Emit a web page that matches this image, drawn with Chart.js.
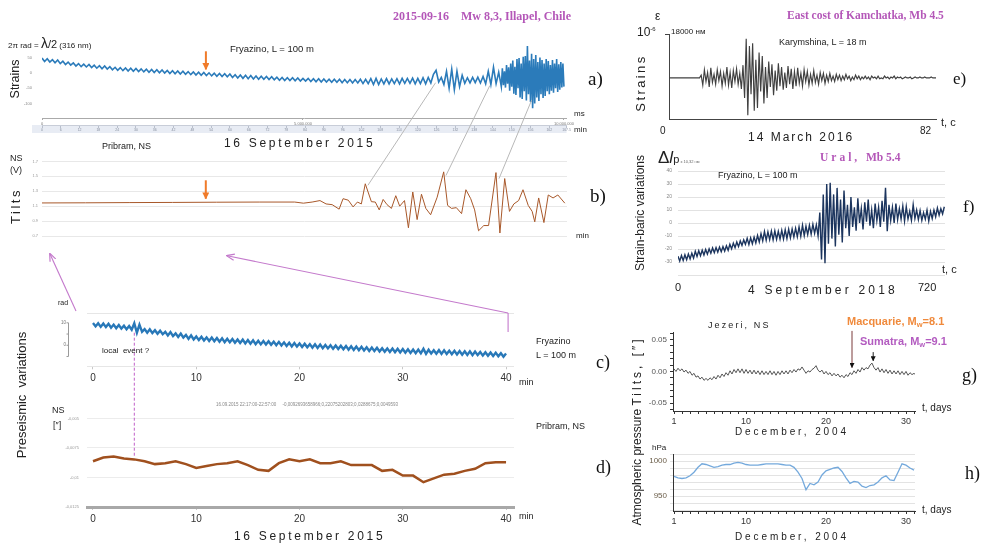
<!DOCTYPE html>
<html>
<head>
<meta charset="utf-8">
<title>Strain and tilt records</title>
<script src="https://cdn.jsdelivr.net/npm/chart.js"></script>
<style>
  html, body { margin: 0; padding: 0; background: #fff; }
  body { width: 981px; height: 546px; position: relative; overflow: hidden;
         font-family: "Liberation Sans", Arial, sans-serif; color: #222; }
  .box { position: absolute; }
  .t { position: absolute; white-space: pre; line-height: 1; }
  .ttl { font-family: "Liberation Serif", serif; font-weight: bold; color: #b457b8; font-size: 11.5px; }
  .lbl { font-family: "Liberation Serif", serif; font-size: 19px; color: #111; }
  .rot { transform: translate(-50%, -50%) rotate(-90deg); }
  #ov { position: absolute; left: 0; top: 0; pointer-events: none; }
</style>
</head>
<body>

<div class="box" style="left:0;top:38px;width:575px;height:95px"><canvas id="cA"></canvas></div>
<div class="box" style="left:0;top:155px;width:575px;height:88px"><canvas id="cB"></canvas></div>
<div class="box" style="left:0;top:290px;width:575px;height:100px"><canvas id="cC"></canvas></div>
<div class="box" style="left:0;top:408px;width:575px;height:118px"><canvas id="cD"></canvas></div>
<div class="box" style="left:620px;top:24px;width:320px;height:106px"><canvas id="cE"></canvas></div>
<div class="box" style="left:620px;top:160px;width:330px;height:125px"><canvas id="cF"></canvas></div>
<div class="box" style="left:620px;top:325px;width:300px;height:105px"><canvas id="cG"></canvas></div>
<div class="box" style="left:620px;top:440px;width:300px;height:90px"><canvas id="cH"></canvas></div>

<svg id="ov" width="981" height="546"></svg>

<!-- a) -->
<div class="t ttl" style="left:393px;top:10px;font-size:12px">2015-09-16    Mw 8,3, Illapel, Chile</div>
<div class="t" style="left:8px;top:36px;font-size:8px">2π rad = <span style="font-size:14px">λ</span><span style="font-size:11px">/2</span> (316 nm)</div>
<div class="t" style="left:230px;top:44px;font-size:9.5px">Fryazino, L = 100 m</div>
<div class="t rot" style="left:15px;top:79px;font-size:12.5px">Strains</div>
<div class="t lbl" style="left:588px;top:69px">a)</div>
<div class="t" style="left:574px;top:110px;font-size:8px">ms</div>
<div class="t" style="left:574px;top:126px;font-size:8px">min</div>
<div class="t" style="left:224px;top:137px;font-size:12px;letter-spacing:2.7px">16 September 2015</div>

<!-- b) -->
<div class="t" style="left:102px;top:142px;font-size:9px">Pribram, NS</div>
<div class="t" style="left:10px;top:154px;font-size:9px">NS</div>
<div class="t" style="left:10px;top:166px;font-size:9px">(V)</div>
<div class="t rot" style="left:15px;top:206px;font-size:13px;letter-spacing:2.5px">Tilts</div>
<div class="t" style="left:576px;top:232px;font-size:8px">min</div>
<div class="t lbl" style="left:590px;top:186px">b)</div>

<!-- c) -->
<div class="t" style="left:58px;top:299px;font-size:7px">rad</div>
<div class="t" style="left:102px;top:347px;font-size:8px">local  event ?</div>
<div class="t" style="left:536px;top:337px;font-size:9px">Fryazino</div>
<div class="t" style="left:536px;top:351px;font-size:9px">L = 100 m</div>
<div class="t lbl" style="left:596px;top:353px;font-size:18px">c)</div>
<div class="t" style="left:519px;top:378px;font-size:9px">min</div>
<div class="t rot" style="left:21px;top:395px;font-size:13px">Preseismic  variations</div>

<!-- d) -->
<div class="t" style="left:52px;top:406px;font-size:9px">NS</div>
<div class="t" style="left:53px;top:421px;font-size:9px">[″]</div>
<div class="t" style="left:216px;top:403px;font-size:4.5px;color:#888">16.09.2015 22:17:00-22:57:00     -0,0092693658966;0,22075202803;0,0288675;0,0049593</div>
<div class="t" style="left:536px;top:422px;font-size:9px">Pribram, NS</div>
<div class="t lbl" style="left:596px;top:458px;font-size:18px">d)</div>
<div class="t" style="left:519px;top:512px;font-size:9px">min</div>
<div class="t" style="left:234px;top:530px;font-size:12px;letter-spacing:2.7px">16 September 2015</div>

<!-- e) -->
<div class="t ttl" style="left:787px;top:10px">East cost of Kamchatka, Mb 4.5</div>
<div class="t" style="left:655px;top:10px;font-size:12px">ε</div>
<div class="t" style="left:637px;top:26px;font-size:12px">10<span style="font-size:6px;vertical-align:5px">-6</span></div>
<div class="t" style="left:671px;top:28px;font-size:8px">18000 нм</div>
<div class="t" style="left:779px;top:38px;font-size:9px">Karymshina, L = 18 m</div>
<div class="t rot" style="left:640px;top:83px;font-size:13px;letter-spacing:2.4px">Strains</div>
<div class="t" style="left:660px;top:126px;font-size:10px">0</div>
<div class="t" style="left:748px;top:131px;font-size:12px;letter-spacing:2px">14 March 2016</div>
<div class="t" style="left:920px;top:126px;font-size:10px">82</div>
<div class="t" style="left:941px;top:117px;font-size:11px">t, c</div>
<div class="t lbl" style="left:953px;top:70px;font-size:17px">e)</div>

<!-- f) -->
<div class="t" style="left:658px;top:149px;font-size:17px">Δ<i>l</i><span style="font-size:11px">p</span><span style="font-size:4px;color:#666"> x 10,32 нм</span></div>
<div class="t ttl" style="left:820px;top:152px"><span style="letter-spacing:3px">Ural,</span>  Mb 5.4</div>
<div class="t" style="left:718px;top:171px;font-size:9px">Fryazino, L = 100 m</div>
<div class="t rot" style="left:640px;top:213px;font-size:12px">Strain-baric variations</div>
<div class="t" style="left:942px;top:264px;font-size:11px">t, c</div>
<div class="t" style="left:675px;top:282px;font-size:11px">0</div>
<div class="t" style="left:748px;top:284px;font-size:12px;letter-spacing:3.2px">4 September 2018</div>
<div class="t" style="left:918px;top:282px;font-size:11px">720</div>
<div class="t lbl" style="left:963px;top:198px;font-size:17px">f)</div>

<!-- g) -->
<div class="t" style="left:708px;top:321px;font-size:9px;letter-spacing:2.1px">Jezeri, NS</div>
<div class="t" style="left:847px;top:316px;font-size:11px;font-weight:bold;color:#f08a3c">Macquarie, M<span style="font-size:7.5px;vertical-align:-2px">w</span>=8.1</div>
<div class="t" style="left:860px;top:336px;font-size:11px;font-weight:bold;color:#b35cc0">Sumatra, M<span style="font-size:7.5px;vertical-align:-2px">w</span>=9.1</div>
<div class="t" style="left:922px;top:403px;font-size:10px">t, days</div>
<div class="t lbl" style="left:962px;top:366px;font-size:18px">g)</div>
<div class="t" style="left:735px;top:427px;font-size:10px;letter-spacing:2.9px">December, 2004</div>
<div class="t rot" style="left:637px;top:431px;font-size:12px">Atmospheric pressure <span style="letter-spacing:3px">Tilts, [″]</span></div>

<!-- h) -->
<div class="t" style="left:652px;top:444px;font-size:8px">hPa</div>
<div class="t" style="left:922px;top:505px;font-size:10px">t, days</div>
<div class="t lbl" style="left:965px;top:464px;font-size:18px">h)</div>
<div class="t" style="left:735px;top:532px;font-size:10px;letter-spacing:2.9px">December, 2004</div>

<script>
// a) Fryazino strains, 16 Sep 2015; x in units of 1e5 ms
// slow part: one sample every 0.5 units from 0 to 88
const aStep = 0.5;
const aStrain = [
  48, 37, 46, 35, 43, 33, 42, 30, 38, 27, 35, 25, 32, 22, 30, 20, 28, 19, 27, 17,
  25, 15, 23, 13, 22, 12, 20, 10, 18, 8, 17, 7, 16, 6, 15, 5, 14, 4, 13, 3,
  12, 2, 11, 1, 10, 0, 9, -1, 8, -2, 7, -3, 6, -4, 5, -5, 4, -6, 3, -7,
  2, -8, 1, -9, 0, -10, -1, -11, -2, -12, -3, -13, -4, -15, -6, -17, -7, -18, -8, -19,
  -9, -20, -10, -21, -11, -21, -12, -22, -13, -23, -14, -24, -15, -25, -16, -25, -16, -26, -17, -27,
  -18, -27, -18, -28, -19, -29, -19, -30, -20, -30, -21, -31, -21, -31, -21, -32, -22, -32, -22, -33,
  -22, -33, -21, -35, -21, -35, -19, -38, -18, -38, -20, -36, -19, -36, -20, -35, -19, -36, -18, -34,
  -18, -34, -17, -36, -18, -35, -16, -36, -15, -33,
  -5, 8, -30, -15, -38, 5, -50, 12, -55, 5, -45, -8, -34, -16, -33, -15, -32, -14, -33, -12,
  -36, 5, -38, 18, -35, 2, -45
];
// main burst: one sample every 0.2 units from 88.2 to 100
const aBurstStart = 88.2;
const aBurstStep = 0.2;
const aBurst = [
  15, -40, 5, -48, 25, -35, 18, -58, 30, -45,
  40, -68, 20, -72, 45, -50, 48, -80, 30, -85,
  52, -60, 55, -90, 87, -70, 40, -95, 62, -115,
  45, -100, 58, -80, 35, -92, 50, -70, 42, -82,
  30, -75, 45, -60, 38, -70, 25, -58, 42, -65,
  30, -50, 45, -62, 28, -55, 35, -48, 30, -45
];
const aTickMs = [0, 5000000, 10000000];
const aTickStrain = [50, 0, -50, -100];

// b) Pribram NS tilts, minutes
const bMin = [0, 10, 20, 30, 40, 50, 58, 60, 62, 63.8, 65.2, 66.6, 68.2, 69.1, 70.3, 71.4, 72.4,
  73.3, 74.2, 75.6, 76.5, 77.4, 78.3, 79.2, 80.2, 81.2, 82.1, 83.2, 84.1, 85.1, 86.1, 87.1, 88.1,
  89.2, 90.7, 92.2, 93.1, 94, 95.1, 96.3, 97.3, 98.4, 99.3, 100.2, 101.4, 102.5, 104.2, 105.1,
  106.2, 107.3, 108.3, 109.4, 110.4, 111.6, 112.5, 113.1, 114, 115.2, 116.2, 117.3, 118.4, 120];
const bNS = [1.143, 1.145, 1.148, 1.15, 1.153, 1.155, 1.155, 1.14, 1.155, 1.175, 1.13, 1.12, 1.06,
  1.20, 1.18, 1.09, 1.155, 1.13, 1.40, 1.16, 1.155, 1.05, 1.19, 1.12, 1.07, 1.24, 1.10, 1.175, 0.81,
  1.29, 0.92, 1.26, 1.07, 0.985, 1.22, 1.56, 1.11, 1.07, 1.08, 1.0, 1.32, 1.2, 1.05, 0.77, 0.84,
  0.84, 1.55, 0.74, 1.47, 1.03, 1.13, 1.175, 1.32, 1.11, 1.03, 0.89, 1.21, 0.88, 1.25, 1.21, 1.25, 1.14];
const bTickMin = [0, 10, 20, 30, 40, 50, 60, 70, 80, 90, 100, 110, 120];
const bTickNS = [0.7, 0.8, 0.9, 1, 1.1, 1.2, 1.3, 1.4, 1.5, 1.6, 1.7];

// c) Fryazino preseismic strain, rad, 4 samples per minute
const cStepMin = 0.25;
const cRad = [
  9.9, 8.4, 9.8, 8.2, 9.7, 8.1, 9.6, 7.8, 9.2, 7.6, 9.0, 7.4, 8.7, 7.1, 8.6, 6.9,
  9.8, 5.6, 9.2, 6.0, 7.2, 5.6, 7.1, 5.4, 6.7, 5.1, 6.5, 4.9, 6.0, 4.4, 5.9, 4.1,
  5.3, 3.7, 5.2, 3.4, 4.6, 2.8, 4.4, 2.6, 3.9, 2.3, 3.8, 2.1, 3.5, 1.9, 3.4, 1.8,
  3.2, 1.6, 3.1, 1.4, 2.9, 1.3, 2.8, 1.1, 2.6, 1.0, 2.5, 0.8, 2.3, 0.7, 2.2, 0.5,
  2.0, 0.4, 1.9, 0.3, 1.8, 0.2, 1.6, 0.0, 1.5, -0.1, 1.3, -0.3, 1.1, -0.5, 1.0, -0.6,
  0.8, -0.8, 0.7, -0.9, 0.5, -1.1, 0.4, -1.2, 0.3, -1.3, 0.1, -1.4, 0.0, -1.6, -0.1, -1.7,
  -0.2, -1.8, -0.3, -2.0, -0.5, -2.1, -0.6, -2.2, -0.7, -2.3, -0.9, -2.5, -1.0, -2.6, -1.1, -2.8,
  -1.3, -2.9, -1.4, -3.0, -1.5, -3.1, -1.6, -3.2, -1.7, -3.3, -1.8, -3.4, -1.9, -3.5, -1.9, -3.6,
  -1.6, -3.8, -2.0, -3.7, -2.2, -3.8, -2.2, -3.9, -2.3, -3.9, -2.4, -4.0, -2.5, -4.1, -2.6, -4.2,
  -2.7, -4.3, -2.7, -4.4, -2.8, -4.4, -3.0, -4.6, -3.1, -4.7, -3.2, -4.8, -3.3, -4.9, -3.5, -5.1,
  -3.7
];
const cTickRad = [-9.375, 0, 10, 14.0625];
const cAxisMarks = [10, 5, 0, -5];
const minTicks = [0, 10, 20, 30, 40];

// d) Pribram NS, one sample per minute
const dNS = [-0.00863, -0.00831, -0.00823, -0.00839, -0.00847, -0.00863, -0.00887, -0.00879,
  -0.00863, -0.00887, -0.00919, -0.00903, -0.00887, -0.00879, -0.00863, -0.00895, -0.00935,
  -0.00944, -0.00879, -0.00847, -0.00863, -0.00847, -0.00879, -0.00879, -0.00863, -0.00895,
  -0.00895, -0.00895, -0.00944, -0.00935, -0.00984, -0.00984, -0.0104, -0.01008, -0.00976,
  -0.00968, -0.00944, -0.00927, -0.00879, -0.00871, -0.00871];
const dTickNS = [-0.0125, -0.01, -0.0075, -0.005];
const dTickText = ['-0,0125', '-0,01', '-0,0075', '-0,005'];

// e) Karymshina strains, 14 Mar 2016, one sample every 0.5 s
const eStepS = 0.5;
const eStrain = [
  0, 0, 0, 0, 0, 0, 0, 0, 0, 0, 0, 0, 0, 0, 0, 0, 0, 0, 0, 0,
  3, -8, 9, -4, 6, -10, 11, -5, 4, -7, 9, -3, 7, -9, 5, -6, 12, -8, 6, -11, 8, -4, 10, -7, 5, -12,
  14, -22, 43, -41, 35, -18, 38, -36, 20, -33, 28, -15, 24, -28, 12, -22,
  18, -10, 15, -19, 8, -14, 16, -9, 12, -13, 6, -11, 13, -7, 10, -12, 7, -9, 11, -6,
  5, -9, 9, -4, 7, -8, 4, -6, 8, -5, 3, -7, 6, -3, 5, -6, 3, -4, 5, -3,
  2, -4, 4, -2, 3, -3, 2, -2, 4, -1, 2, -3, 1, -2, 3, -1, 2, -2, 1, -1,
  2, -1, 1, -2, 2, 0, 1, -1, 2, -1, 0, -1, 2, 0, 1, -1, 1, 0, 2, -1,
  1, 0, 1, -1, 0, 1, 0, 0, 1, -1, 0, 1, 0, 0, 1, 0, 0, 1, 0, 0,
  0, 1, 0, 0, 0
];

// f) Fryazino strain-baric variations, 4 Sep 2018, one sample every 5 s
const fStepS = 5;
const fStrain = [
  -25.5, -29.3, -25, -28.8, -24.4, -28.2, -23.8, -27.6, -23.2, -27,
  -21.8, -25.8, -21.4, -25.2, -20.9, -24.6, -20.4, -24.0, -19.9, -23.3,
  -19.2, -22.8, -18.9, -22.4, -18.5, -22.1, -18.2, -21.6, -17.6, -21.0,
  -16.3, -19.9, -15.5, -19.0, -14.6, -18.2, -13.8, -17.2, -13.0, -16.4,
  -11.8, -16.6, -11.4, -16.0, -10.8, -15.4, -9.6, -14.6, -8.2, -13.8,
  -6.5, -13.2, -6.8, -12.8, -6.2, -13.0, -6.0, -12.6, -6.4, -12.4,
  -5.6, -12.3, -5.2, -12.0, -4.8, -11.4, -4.6, -10.8, -4.0, -10.5,
  -3.0, -10.2, -1.7, -9.8, -2.5, -9.0, -1.8, -8.6, -1.0, -8.0,
  -1.5, -10, 8, -28, 22, -31, 30, -16, 31, -12,
  22, -18, 27, -9, 18, -15, 25, -4, 14, -10,
  20, -3, 12, -6, 19, 0, 11, -5, 16, 1,
  18, -2, 10, -4, 15, 2, 12, -3, 17, 1,
  27, -6.3, 14, 2, 12, 0, 15, 2.5, 11, 3,
  13, 1.5, 12.5, 3, 9, 2, 14, 3.5, 10, 2.5,
  9.5, 2, 8, 3, 10, 1.5, 9, 3.5, 10, 4.8,
  11.5, 6, 11, 7, 12.5
];
const fTickS = [0, 60, 120, 180, 240, 300, 360, 420, 480, 540, 600, 660, 720];
const fTickVal = [-40, -30, -20, -10, 0, 10, 20, 30, 40];

// g) Jezeri NS tilts, Dec 2004, 4 samples per day from day 1
const gStepDay = 0.25;
const gTilt = [
  0.004, 0.000, 0.005, 0.001, 0.004, -0.001, 0.002, -0.003, 0.000, -0.006, -0.003, -0.009,
  -0.007, -0.012, -0.009, -0.014, -0.011, -0.014, -0.010, -0.013, -0.008, -0.012, -0.006, -0.010,
  -0.004, -0.008, -0.002, -0.006, 0.001, -0.004, 0.003, -0.002, 0.004, -0.002, 0.004, -0.003,
  0.003, -0.003, 0.002, -0.004, 0.002, -0.004, 0.001, -0.005, 0.001, -0.005, 0.000, -0.005,
  0.001, -0.005, 0.000, -0.006, 0.000, -0.005, 0.001, -0.004, 0.001, -0.004, 0.002, -0.002,
  0.003, -0.001, 0.004, 0.002, 0.007, 0.002, -0.003, 0.001, -0.001, 0.003, 0.005, 0.009,
  0.002, -0.001, 0.002, -0.004, 0.000, -0.005, -0.002, -0.007, -0.003, -0.007, -0.004, -0.009,
  -0.006, -0.010, -0.005, -0.008, -0.002, -0.005, 0.001, -0.003, 0.003, -0.001, 0.006, 0.002,
  0.006, 0.004, 0.010, 0.013, 0.006, 0.002, 0.006, -0.001, 0.004, -0.002, 0.003, -0.003,
  0.002, -0.004, 0.001, -0.004, 0.001, -0.005, 0.000, -0.005, 0.000, -0.006, -0.002, -0.005,
  -0.003, -0.006, -0.004
];
const gTickVal = [-0.06, -0.05, -0.04, -0.03, -0.02, -0.01, 0, 0.01, 0.02, 0.03, 0.04, 0.05, 0.06];
const gTickText = ['', '-0.05', '', '', '', '', '0.00', '', '', '', '', '0.05', ''];

// h) atmospheric pressure, Dec 2004, 2 samples per day from day 1
const hStepDay = 0.5;
const hPress = [
  978, 976, 975, 976, 979, 984, 991, 996, 995, 993, 991, 992, 994, 995, 995, 997, 998, 997, 995, 994,
  994, 994, 995, 996, 996, 996, 996, 995, 994, 994, 991, 984, 975, 959, 968, 966, 970, 980, 986, 988,
  990, 991, 985, 976, 968, 971, 970, 964, 962, 965, 966, 970, 976, 979, 973, 972, 984, 996, 994, 990,
  987
];
const hTickVal = [930, 940, 950, 960, 970, 980, 990, 1000, 1010];
const hTickText = ['', '', '950', '', '', '', '', '1000', ''];
const dayTicks = [1, 2, 3, 4, 5, 6, 7, 8, 9, 10, 11, 12, 13, 14, 15, 16, 17, 18, 19, 20,
  21, 22, 23, 24, 25, 26, 27, 28, 29, 30, 31];
const dayLabels = [1, 10, 20, 30];

// connector ends, in each panel's own data units
const linkFromA = [[7540000, -32], [8580000, -41.5], [9380000, -89]];
const linkToB = [[74.8, 1.38], [92.7, 1.51], [104.9, 1.47]];

Chart.defaults.font.family = '"Liberation Sans", Arial, sans-serif';
Chart.defaults.color = '#555';

const series = (vals, step, start = 0) => vals.map((v, i) => ({ x: start + i * step, y: v }));
const fixW = w => s => { s.width = w; };
const fixH = h => s => { s.height = h; };
const setTicks = list => s => { s.ticks = list.map(v => ({ value: v })); };

function makeChart(id, datasets, scales, padding, plugins) {
  return new Chart(document.getElementById(id), {
    type: 'line',
    data: { datasets },
    options: {
      responsive: true,
      maintainAspectRatio: false,
      animation: false,
      events: [],
      layout: { padding },
      plugins: { legend: { display: false }, tooltip: { enabled: false } },
      elements: { point: { radius: 0 }, line: { tension: 0 } },
      scales
    },
    plugins: plugins || []
  });
}

// grey band behind the minute ruler of a)
const rulerBand = {
  id: 'rulerBand',
  beforeDraw(chart) {
    const s = chart.scales.x2;
    const ctx = chart.ctx;
    ctx.save();
    ctx.fillStyle = '#e8ecf4';
    ctx.fillRect(32, s.top, s.right - 32, s.bottom - s.top);
    ctx.restore();
  }
};

// small detached rad axis of c)
const radAxis = {
  id: 'radAxis',
  afterDraw(chart) {
    const y = chart.scales.y;
    const ctx = chart.ctx;
    const x0 = Math.round(chart.chartArea.left - 19) + 0.5;
    ctx.save();
    ctx.strokeStyle = '#9a9a9a';
    ctx.lineWidth = 1;
    ctx.beginPath();
    ctx.moveTo(x0, y.getPixelForValue(cAxisMarks[0]));
    ctx.lineTo(x0, y.getPixelForValue(cAxisMarks[cAxisMarks.length - 1]));
    cAxisMarks.forEach(v => {
      const p = y.getPixelForValue(v);
      ctx.moveTo(x0 - 2, p);
      ctx.lineTo(x0, p);
    });
    ctx.stroke();
    ctx.restore();
  }
};

const aPoints = series(aStrain, aStep * 1e5).concat(series(aBurst, aBurstStep * 1e5, aBurstStart * 1e5));

const chA = makeChart('cA', [{
  data: aPoints, borderColor: '#2b7bba', borderWidth: 1.6
}], {
  x: {
    type: 'linear', min: 0, max: 10050000, weight: 0,
    afterFit: fixH(7), afterBuildTicks: setTicks(aTickMs),
    ticks: { font: { size: 4 }, color: '#777', maxRotation: 0, padding: 1 },
    grid: { drawOnChartArea: false, tickLength: 2, color: '#aaa' },
    border: { color: '#aaa' }
  },
  x2: {
    type: 'linear', position: 'bottom', min: 0, max: 167.5, weight: 1,
    afterFit: fixH(8),
    ticks: { stepSize: 6, font: { size: 3.5 }, color: '#8890a0', maxRotation: 0, padding: 0, autoSkip: false },
    grid: { drawOnChartArea: false, tickLength: 3, color: '#b8bfcc' },
    border: { color: '#c8cdd8' }
  },
  y: {
    min: -147, max: 99, afterFit: fixW(42), afterBuildTicks: setTicks(aTickStrain),
    ticks: { font: { size: 4 }, color: '#888', padding: 2 },
    grid: { display: false }, border: { display: false }
  }
}, { top: 3, right: 8, left: 0, bottom: 0 }, [rulerBand]);

const chB = makeChart('cB', [{
  data: bMin.map((m, i) => ({ x: m, y: bNS[i] })), borderColor: '#a8582a', borderWidth: 1
}], {
  x: {
    type: 'linear', min: 0, max: 120.5, afterFit: fixH(7), afterBuildTicks: setTicks(bTickMin),
    ticks: { font: { size: 4 }, color: '#999', maxRotation: 0, padding: 1 },
    grid: { display: false }, border: { display: false }
  },
  y: {
    min: 0.7, max: 1.7, afterFit: fixW(42), afterBuildTicks: setTicks(bTickNS),
    ticks: { font: { size: 4 }, color: '#999', padding: 4 },
    grid: { color: '#e8e8e8', drawTicks: false }, border: { display: false }
  }
}, { top: 2, right: 8 });

const minAxis = () => ({
  type: 'linear', min: -0.58, max: 40.77, afterFit: fixH(19), afterBuildTicks: setTicks(minTicks),
  ticks: { font: { size: 10 }, color: '#333', maxRotation: 0, padding: 3 },
  grid: { drawOnChartArea: false, tickLength: 3, color: '#c8c8c8' }
});

const chC = makeChart('cC', [{
  data: series(cRad, cStepMin), borderColor: '#2878b8', borderWidth: 2.4
}], {
  x: Object.assign(minAxis(), { border: { display: false } }),
  y: {
    min: -9.375, max: 14.0625, afterFit: fixW(87), afterBuildTicks: setTicks(cTickRad),
    ticks: { font: { size: 4.5 }, color: '#777', padding: 21,
             callback: v => (v === 10 || v === 0) ? String(v) : '' },
    grid: { drawTicks: false,
            color: c => (c.tick.value === cTickRad[0] || c.tick.value === cTickRad[3]) ? '#e6e6e6' : 'rgba(0,0,0,0)' },
    border: { display: false }
  }
}, { top: 6, right: 61 }, [radAxis]);

const chD = makeChart('cD', [{
  data: series(dNS, 1), borderColor: '#a0501e', borderWidth: 2.5
}], {
  x: Object.assign(minAxis(), { border: { color: '#a8a8a8', width: 3 } }),
  y: {
    min: -0.0125, max: -0.005, afterFit: fixW(87), afterBuildTicks: setTicks(dTickNS),
    ticks: { font: { size: 4 }, color: '#999', padding: 8, callback: (v, i) => dTickText[i] },
    grid: { drawTicks: false, color: c => c.tick.value === dTickNS[0] ? 'rgba(0,0,0,0)' : '#ececec' },
    border: { display: false }
  }
}, { top: 6, right: 61 });

const chE = makeChart('cE', [{
  data: series(eStrain, eStepS), borderColor: '#404040', borderWidth: 1.15
}], {
  x: {
    type: 'linear', min: 0, max: 83, afterFit: fixH(6),
    ticks: { display: false }, grid: { display: false }, border: { color: '#444' }
  },
  y: {
    min: -46, max: 48, afterFit: fixW(49), afterBuildTicks: setTicks([48]),
    ticks: { callback: () => '' },
    grid: { drawOnChartArea: false, tickLength: 4, color: '#444' },
    border: { color: '#444' }
  }
}, { top: 6, right: 4 });

const chF = makeChart('cF', [{
  data: series(fStrain, fStepS), borderColor: '#1c355e', borderWidth: 1.4
}], {
  x: {
    type: 'linear', min: 0, max: 772, afterFit: fixH(10), afterBuildTicks: setTicks(fTickS),
    ticks: { font: { size: 4 }, color: '#999', maxRotation: 0, padding: 2 },
    grid: { display: false }, border: { display: false }
  },
  y: {
    min: -40, max: 40, afterFit: fixW(58), afterBuildTicks: setTicks(fTickVal),
    ticks: { font: { size: 5 }, color: '#888', padding: 6, callback: v => v === -40 ? '' : String(v) },
    grid: { color: '#e2e2e2', drawTicks: false }, border: { display: false }
  }
}, { top: 11, right: 5 });

const dayAxis = () => ({
  type: 'linear', min: 0.875, max: 31.125, afterFit: fixH(19), afterBuildTicks: setTicks(dayTicks),
  ticks: { font: { size: 9 }, color: '#333', maxRotation: 0, padding: 2, autoSkip: false,
           callback: v => dayLabels.includes(v) ? String(v) : '' },
  grid: { drawOnChartArea: false, tickLength: 3, color: '#333' },
  border: { color: '#333' }
});

const chG = makeChart('cG', [{
  data: series(gTilt, gStepDay, 1), borderColor: '#444', borderWidth: 0.9
}], {
  x: dayAxis(),
  y: {
    min: -0.0621, max: 0.0606, afterFit: fixW(53), afterBuildTicks: setTicks(gTickVal),
    ticks: { font: { size: 8 }, color: '#555', padding: 3, autoSkip: false, callback: (v, i) => gTickText[i] },
    grid: { drawOnChartArea: false, tickLength: 3, color: '#333' },
    border: { color: '#333' }
  }
}, { top: 5, right: 5 });

const chH = makeChart('cH', [{
  data: series(hPress, hStepDay, 1), borderColor: '#74a9dc', borderWidth: 1.3
}], {
  x: dayAxis(),
  y: {
    min: 928.6, max: 1010, afterFit: fixW(53), afterBuildTicks: setTicks(hTickVal),
    ticks: { font: { size: 8 }, color: '#6b5e4a', padding: 3, autoSkip: false, callback: (v, i) => hTickText[i] },
    grid: { color: '#e3e3e3', tickLength: 3 },
    border: { color: '#333' }
  }
}, { top: 14, right: 5 });

// overlay: connectors and arrows, placed through each chart's scales
function at(ch, xv, yv) {
  const box = ch.canvas.parentNode;
  return [box.offsetLeft + ch.scales.x.getPixelForValue(xv), box.offsetTop + ch.scales.y.getPixelForValue(yv)];
}
let svg = `<defs>
  <marker id="mO" viewBox="0 0 10 10" refX="9" refY="5" markerWidth="7" markerHeight="7" markerUnits="userSpaceOnUse" orient="auto"><path d="M0,0 L10,5 L0,10 z" fill="#f07b2a"/></marker>
  <marker id="mP" viewBox="0 0 10 10" refX="9" refY="5" markerWidth="8" markerHeight="8" markerUnits="userSpaceOnUse" orient="auto"><path d="M0,1 L10,5 L0,9" fill="none" stroke="#c47acc" stroke-width="1.5"/></marker>
  <marker id="mK" viewBox="0 0 10 10" refX="9" refY="5" markerWidth="5" markerHeight="5" markerUnits="userSpaceOnUse" orient="auto"><path d="M0,0 L10,5 L0,10 z" fill="#111"/></marker>
</defs>`;
function seg(p, q, stroke, w, extra) {
  svg += `<line x1="${p[0].toFixed(1)}" y1="${p[1].toFixed(1)}" x2="${q[0].toFixed(1)}" y2="${q[1].toFixed(1)}" stroke="${stroke}" stroke-width="${w}" ${extra || ''}/>`;
}

linkFromA.forEach((a, i) => seg(at(chA, a[0], a[1]), at(chB, linkToB[i][0], linkToB[i][1]), '#b8b8b8', 1));

seg(at(chA, 3140000, 70), at(chA, 3140000, 11), '#f07b2a', 2, 'marker-end="url(#mO)"');
seg(at(chB, 37.6, 1.447), at(chB, 37.6, 1.2), '#f07b2a', 2, 'marker-end="url(#mO)"');

seg(at(chC, -1.65, 15.3), at(chB, 1.84, 0.46), '#c47acc', 1.1, 'marker-end="url(#mP)"');
seg(at(chC, 40.2, 14.375), at(chB, 42.5, 0.434), '#c47acc', 1.1, 'marker-end="url(#mP)"');
seg(at(chC, 40.2, 14.375), at(chC, 40.2, 5.94), '#c47acc', 1.1);
seg(at(chC, 4, 5.6), at(chD, 4, -0.0083), '#c060c8', 1, 'stroke-dasharray="3,2"');

seg(at(chG, 23.25, 0.0636), at(chG, 23.25, 0.006), '#7a3b3b', 1, 'marker-end="url(#mK)"');
seg(at(chG, 25.9, 0.0303), at(chG, 25.9, 0.0167), '#222', 1, 'marker-end="url(#mK)"');

document.getElementById('ov').innerHTML = svg;
</script>
</body>
</html>
